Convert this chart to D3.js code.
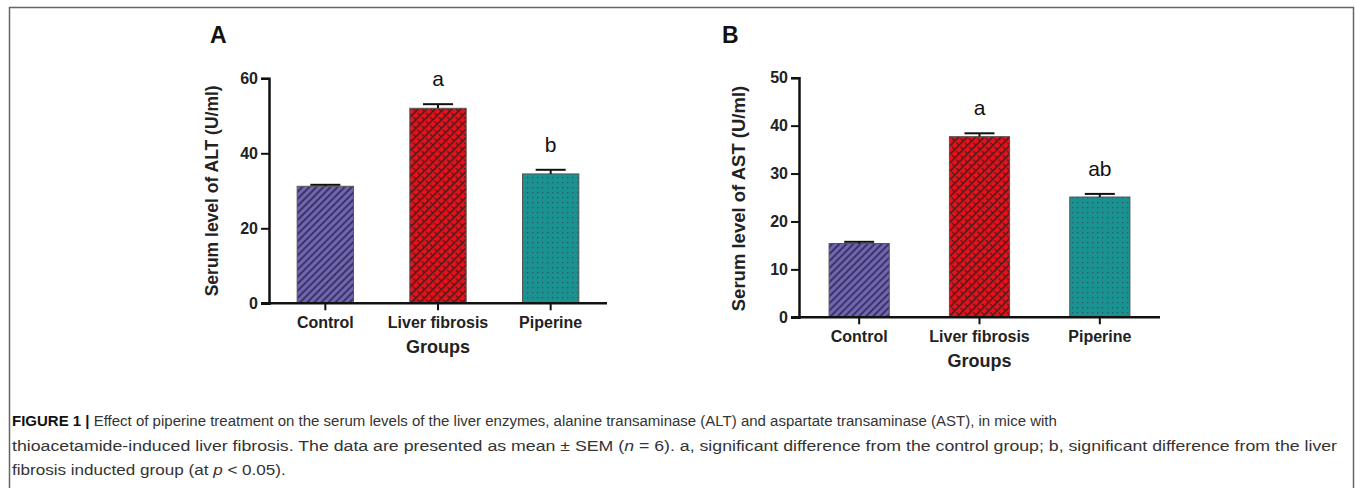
<!DOCTYPE html>
<html>
<head>
<meta charset="utf-8">
<script src="https://cdn.jsdelivr.net/npm/d3@7"></script>
<style>
  body { margin: 0; background: #fff; }
  svg { display: block; font-family: "Liberation Sans", Arial, sans-serif; }
</style>
</head>
<body>
<svg id="fig" width="1355" height="488"></svg>
<script>
// Data
var groups = ["Control", "Liver fibrosis", "Piperine"];
var altMean = [31.2, 52.0, 34.5];
var altSem = [0.4, 1.1, 1.1];
var altLetters = ["", "a", "b"];
var astMean = [15.4, 37.7, 25.1];
var astSem = [0.35, 0.7, 0.65];
var astLetters = ["", "a", "ab"];
var altTicks = [0, 20, 40, 60];
var astTicks = [0, 10, 20, 30, 40, 50];

var fills = ["url(#pCtrl)", "url(#pLiver)", "url(#pPip)"];

const svg = d3.select("#fig");

// frame
svg.append("rect")
    .attr("x", 9.5).attr("y", 7.5)
    .attr("width", 1344).attr("height", 500)
    .attr("fill", "none")
    .attr("stroke", "#666")
    .attr("stroke-width", 1.5);

// patterns
const defs = svg.append("defs");

let p = defs.append("pattern").attr("id", "pCtrl")
    .attr("patternUnits", "userSpaceOnUse").attr("width", 5).attr("height", 5)
    .attr("patternTransform", "rotate(45)");
p.append("rect").attr("width", 5).attr("height", 5).attr("fill", "#7066b0");
p.append("rect").attr("width", 2).attr("height", 5).attr("fill", "#3b3468");

p = defs.append("pattern").attr("id", "pLiver")
    .attr("patternUnits", "userSpaceOnUse").attr("width", 6).attr("height", 6)
    .attr("patternTransform", "rotate(45)");
p.append("rect").attr("width", 6).attr("height", 6).attr("fill", "#e8111b");
p.append("rect").attr("width", 1.6).attr("height", 6).attr("fill", "#4a1a1a");
p.append("rect").attr("x", 3).attr("y", 0).attr("width", 3).attr("height", 1.2).attr("fill", "#4a1a1a");

p = defs.append("pattern").attr("id", "pPip")
    .attr("patternUnits", "userSpaceOnUse").attr("width", 5).attr("height", 5);
p.append("rect").attr("width", 5).attr("height", 5).attr("fill", "#1b9292");
p.append("rect").attr("x", 2).attr("y", 2).attr("width", 1.3).attr("height", 1.3).attr("fill", "#2f5a5a");

function drawPanel(opt) {
    const g = svg.append("g");
    const x = d3.scaleBand().domain(groups)
        .range([opt.x0, opt.x1]).paddingInner(0.5).paddingOuter(0.25);
    const y = d3.scaleLinear().domain([0, opt.max]).range([opt.y0, opt.yTop]);

    // bars
    g.selectAll(".bar").data(opt.mean).enter().append("rect")
        .attr("x", (d, i) => x(groups[i]))
        .attr("y", d => y(d))
        .attr("width", x.bandwidth())
        .attr("height", d => y(0) - y(d))
        .attr("fill", (d, i) => fills[i])
        .attr("stroke", "#555")
        .attr("stroke-width", 1);

    // error bars (upper only)
    opt.mean.forEach(function(m, i) {
        const cx = x(groups[i]) + x.bandwidth() / 2;
        g.append("line")
            .attr("x1", cx).attr("x2", cx)
            .attr("y1", y(m)).attr("y2", y(m + opt.sem[i]))
            .attr("stroke", "#111").attr("stroke-width", 2);
        g.append("line")
            .attr("x1", cx - 15).attr("x2", cx + 15)
            .attr("y1", y(m + opt.sem[i])).attr("y2", y(m + opt.sem[i]))
            .attr("stroke", "#111").attr("stroke-width", 2);
        if (opt.letters[i]) {
            g.append("text")
                .attr("x", cx).attr("y", y(m + opt.sem[i]) - 18)
                .attr("text-anchor", "middle")
                .attr("font-size", 21)
                .attr("fill", "#111")
                .text(opt.letters[i]);
        }
    });

    // y axis
    const ya = g.append("g")
        .attr("transform", `translate(${opt.x0},0)`)
        .call(d3.axisLeft(y).tickValues(opt.ticks).tickSize(8).tickPadding(3));
    ya.select(".domain").attr("stroke", "#111").attr("stroke-width", 2.5);
    ya.selectAll(".tick line").attr("stroke", "#111").attr("stroke-width", 2);
    ya.selectAll(".tick text")
        .attr("font-size", 16).attr("font-weight", "bold").attr("fill", "#222")
        .attr("font-family", "Liberation Sans, Arial, sans-serif");

    // x axis
    const xa = g.append("g")
        .attr("transform", `translate(0,${opt.y0})`)
        .call(d3.axisBottom(x).tickSize(7).tickPadding(6));
    xa.select(".domain").attr("stroke", "#111").attr("stroke-width", 2.5)
        .attr("d", `M${opt.x0 - 8},0H${opt.x1}`);
    xa.selectAll(".tick line").attr("stroke", "#111").attr("stroke-width", 2);
    xa.selectAll(".tick text")
        .attr("font-size", 16).attr("font-weight", "bold").attr("fill", "#222")
        .attr("font-family", "Liberation Sans, Arial, sans-serif");

    // axis titles
    g.append("text")
        .attr("x", (opt.x0 + opt.x1) / 2).attr("y", opt.y0 + 50)
        .attr("text-anchor", "middle")
        .attr("font-size", 18).attr("font-weight", "bold").attr("fill", "#222")
        .text("Groups");
    g.append("text")
        .attr("transform", `translate(${opt.ylabX},${(opt.y0 + opt.yTop) / 2 + opt.ylabShift}) rotate(-90)`)
        .attr("text-anchor", "middle")
        .attr("font-size", opt.ylabSize).attr("font-weight", "bold").attr("fill", "#222")
        .text(opt.ylab);

    // panel letter
    g.append("text")
        .attr("x", opt.letterX).attr("y", 43)
        .attr("font-size", 23).attr("font-weight", "bold").attr("fill", "#111")
        .text(opt.panel);
}

drawPanel({
    x0: 269, x1: 607, y0: 303.3, yTop: 78.3, max: 60,
    mean: altMean, sem: altSem, letters: altLetters, ticks: altTicks,
    ylab: "Serum level of ALT (U/ml)", ylabX: 218, ylabSize: 17.5, ylabShift: 0,
    panel: "A", letterX: 210
});

drawPanel({
    x0: 799, x1: 1160, y0: 317.3, yTop: 77.7, max: 50,
    mean: astMean, sem: astSem, letters: astLetters, ticks: astTicks,
    ylab: "Serum level of AST (U/ml)", ylabX: 745, ylabSize: 18.5, ylabShift: 1,
    panel: "B", letterX: 722
});

// caption: each line squeezed to the width it has in the figure
const cap = svg.append("g")
    .attr("font-family", "'Liberation Sans', Arial, sans-serif")
    .attr("font-size", 15.5).attr("fill", "#333");

const lineWidths = [1045, 1326, 274];
const lines = [];
let t = cap.append("text").attr("data-y", 426);
t.append("tspan").attr("font-weight", "bold").attr("fill", "#111").text("FIGURE 1 | ");
t.append("tspan").text("Effect of piperine treatment on the serum levels of the liver enzymes, alanine transaminase (ALT) and aspartate transaminase (AST), in mice with");
lines.push(t);

t = cap.append("text").attr("data-y", 451);
t.append("tspan").text("thioacetamide-induced liver fibrosis. The data are presented as mean \u00b1 SEM (");
t.append("tspan").attr("font-style", "italic").text("n");
t.append("tspan").text(" = 6). a, significant difference from the control group; b, significant difference from the liver");
lines.push(t);

t = cap.append("text").attr("data-y", 475);
t.append("tspan").text("fibrosis inducted group (at ");
t.append("tspan").attr("font-style", "italic").text("p");
t.append("tspan").text(" < 0.05).");
lines.push(t);

lines.forEach(function(l, i) {
    const sx = lineWidths[i] / l.node().getComputedTextLength();
    l.attr("transform", `translate(12,${l.attr("data-y")}) scale(${sx},1)`);
});
</script>
</body>
</html>
